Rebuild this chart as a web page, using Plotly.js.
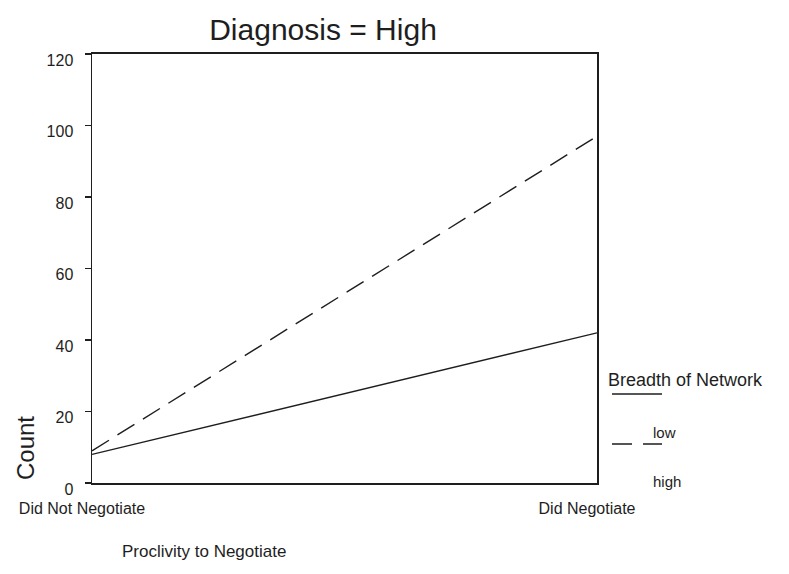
<!DOCTYPE html>
<html>
<head>
<meta charset="utf-8">
<script src="https://cdn.plot.ly/plotly-3.0.1.min.js"></script>
<style>html,body{margin:0;padding:0;background:#fff;}#chart{width:789px;height:574px;}</style>
</head>
<body>
<div id="chart"></div>
<script>
const categories = ['Did Not Negotiate', 'Did Negotiate'];
const lowCounts = [8, 42];
const highCounts = [9, 97];
const yTickVals = [0, 20, 40, 60, 80, 100, 120];
const seriesNames = ['low', 'high'];
const chartTitle = 'Diagnosis = High';
const xTitle = 'Proclivity to Negotiate';
const yTitle = 'Count';
const legendTitle = 'Breadth of Network';

const W = 789, H = 574;
const L = 92, R = 597, T = 54, B = 483;
const px = x => (x - L) / (R - L);
const py = y => (B - y) / (B - T);
const FONT = 'Liberation Sans, Arial, sans-serif';
const INK = '#1e1e1e';

const traces = [
  {x: categories, y: lowCounts, name: seriesNames[0], type: 'scatter', mode: 'lines',
   line: {color: INK, width: 1.4}, showlegend: false},
  {x: categories, y: highCounts, name: seriesNames[1], type: 'scatter', mode: 'lines',
   line: {color: INK, width: 1.4, dash: '20px,10px'}, showlegend: false}
];

const layout = {
  width: W, height: H,
  margin: {l: L, r: W - R, t: T, b: H - B},
  paper_bgcolor: '#fff', plot_bgcolor: '#fff',
  font: {family: FONT, color: INK},
  title: {text: chartTitle, font: {size: 30, family: FONT, color: INK},
          x: px(323), xanchor: 'center', xref: 'paper', y: 1 - 29 / H, yanchor: 'middle'},
  xaxis: {type: 'category', range: [0, 1], showgrid: false, zeroline: false,
          showline: true, linecolor: INK, linewidth: 2, mirror: true,
          ticks: 'inside', ticklen: 7, tickwidth: 1, tickcolor: INK,
          tickfont: {size: 16, family: FONT, color: INK},
          ticklabelshift: -10, ticklabelstandoff: 10},
  yaxis: {range: [0, 120], tickvals: yTickVals, showgrid: false, zeroline: false,
          showline: true, linecolor: INK, linewidth: 1.5, mirror: true,
          ticks: 'outside', ticklen: 6, tickwidth: 1.2, tickcolor: INK,
          tickfont: {size: 16, family: FONT, color: INK},
          ticklabelstandoff: 8, ticklabelshift: 6},
  showlegend: false,
  annotations: [
    {text: xTitle, xref: 'paper', yref: 'paper', x: px(204), y: py(551),
     xanchor: 'center', yanchor: 'middle', showarrow: false,
     font: {size: 17, family: FONT, color: INK}},
    {text: yTitle, xref: 'paper', yref: 'paper', x: px(25), y: py(448), textangle: -90,
     xanchor: 'center', yanchor: 'middle', showarrow: false,
     font: {size: 24, family: FONT, color: INK}},
    {text: legendTitle, xref: 'paper', yref: 'paper', x: px(606), y: py(380),
     xanchor: 'left', yanchor: 'middle', showarrow: false,
     font: {size: 18, family: FONT, color: INK}},
    {text: seriesNames[0], xref: 'paper', yref: 'paper', x: px(651), y: py(432),
     xanchor: 'left', yanchor: 'middle', showarrow: false,
     font: {size: 15, family: FONT, color: INK}},
    {text: seriesNames[1], xref: 'paper', yref: 'paper', x: px(651), y: py(481),
     xanchor: 'left', yanchor: 'middle', showarrow: false,
     font: {size: 15, family: FONT, color: INK}}
  ],
  shapes: [
    {type: 'line', xref: 'paper', yref: 'paper', x0: px(612), x1: px(662), y0: py(394), y1: py(394),
     line: {color: INK, width: 1.4}},
    {type: 'line', xref: 'paper', yref: 'paper', x0: px(612), x1: px(662), y0: py(444), y1: py(444),
     line: {color: INK, width: 1.4, dash: '20px,11px'}}
  ]
};

Plotly.newPlot('chart', traces, layout, {staticPlot: true, displayModeBar: false});
</script>
</body>
</html>
